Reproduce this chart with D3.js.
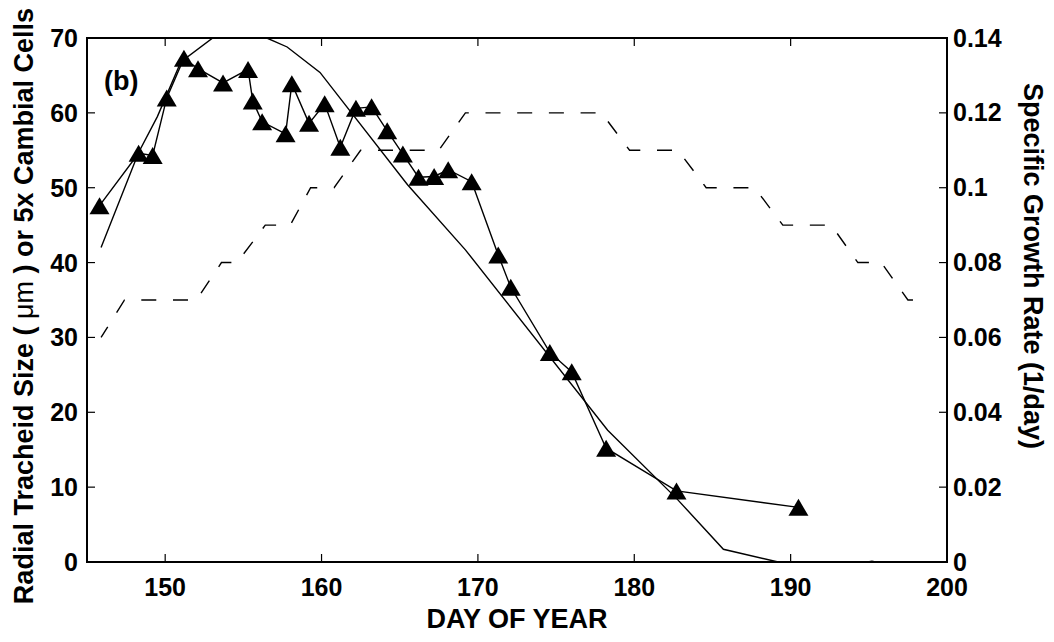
<!DOCTYPE html>
<html>
<head>
<meta charset="utf-8">
<title>Tracheid size and growth rate</title>
<script src="https://d3js.org/d3.v7.min.js"></script>
<style>
    html, body {
        margin: 0;
        padding: 0;
        background: #FFF;
    }
    svg {
        display: block;
        font-family: "Liberation Sans", Arial, Helvetica, sans-serif;
        font-weight: bold;
    }
    .tick-label {
        font-size: 25px;
    }
    .axis-label {
        font-size: 27px;
    }
</style>
</head>
<body>
<svg id="chart" width="1054" height="642"></svg>
<script>
    // observed tracheid sizes (triangles)
    const obsDays = [145.8, 148.3, 149.2, 150.1, 151.2, 152.1, 153.7, 155.3, 155.6, 156.2,
        157.7, 158.1, 159.2, 160.2, 161.2, 162.2, 163.2, 164.2, 165.2, 166.2,
        167.2, 168.1, 169.6, 171.3, 172.1, 174.6, 176.0, 178.2, 182.7, 190.5];
    const obsSize = [47.6, 54.6, 54.3, 62.0, 67.3, 65.9, 64.0, 65.8, 61.6, 58.8,
        57.2, 63.9, 58.6, 61.2, 55.4, 60.6, 60.8, 57.6, 54.5, 51.4,
        51.5, 52.4, 50.8, 41.0, 36.7, 28.0, 25.4, 15.2, 9.5, 7.3];

    // model curve (thin solid line)
    const modelDays = [145.9, 148.3, 149.5, 151.0, 153.1, 154.8, 156.5, 157.8, 159.9,
        165.5, 169.2, 178.3, 182.7, 185.7, 189.2, 192.0, 195.2, 198.0];
    const modelSize = [42.0, 54.7, 59.5, 66.8, 70.1, 71.5, 70.0, 68.8, 65.4,
        50.4, 41.7, 17.6, 8.5, 1.7, 0.0, -1.0, 0.1, -1.0];

    // specific growth rate (dashed line, right axis)
    const rateDays = [145.9, 147.4, 152.0, 153.6, 154.6, 156.4, 158.0, 159.3, 160.8,
        162.5, 167.5, 169.2, 177.9, 179.7, 182.8, 184.6, 187.7, 189.5, 192.6,
        194.3, 195.8, 197.5, 198.2];
    const rateValues = [0.06, 0.07, 0.07, 0.08, 0.08, 0.09, 0.09, 0.10, 0.10,
        0.11, 0.11, 0.12, 0.12, 0.11, 0.11, 0.10, 0.10, 0.09, 0.09,
        0.08, 0.08, 0.07, 0.07];

    const xTicks = [150, 160, 170, 180, 190, 200];
    const leftTicks = [0, 10, 20, 30, 40, 50, 60, 70];
    const rightTicks = [0, 0.02, 0.04, 0.06, 0.08, 0.1, 0.12, 0.14];

    const plotLeft = 87, plotRight = 947, plotTop = 38, plotBottom = 562;
    const tickLen = 8;
    const dashOn = 15, dashOff = 16.7;

    const svg = d3.select('#chart');
    const x = d3.scaleLinear().domain([145, 200]).range([plotLeft, plotRight]);
    const yL = d3.scaleLinear().domain([0, 70]).range([plotBottom, plotTop]);
    const yR = d3.scaleLinear().domain([0, 0.14]).range([plotBottom, plotTop]);

    svg.append('defs').append('clipPath')
        .attr('id', 'plot-clip')
        .append('rect')
        .attr('x', plotLeft)
        .attr('y', plotTop)
        .attr('width', plotRight - plotLeft)
        .attr('height', plotBottom - plotTop);

    const plot = svg.append('g').attr('clip-path', 'url(#plot-clip)');

    // dashed growth rate; phase chosen so a dash starts near day 170.8 on the 0.12 plateau
    const ratePts = rateDays.map((d, i) => [x(d), yR(rateValues[i])]);
    let lenToAnchor = 0;
    const anchorX = x(170.8);
    for (let i = 1; i < ratePts.length; i++) {
        const [x0, y0] = ratePts[i - 1], [x1, y1] = ratePts[i];
        if (x1 >= anchorX) {
            lenToAnchor += Math.hypot(anchorX - x0, (anchorX - x0) / (x1 - x0) * (y1 - y0));
            break;
        }
        lenToAnchor += Math.hypot(x1 - x0, y1 - y0);
    }
    const period = dashOn + dashOff;
    plot.append('path')
        .datum(ratePts)
        .attr('fill', 'none')
        .attr('stroke', '#000')
        .attr('stroke-width', 1.4)
        .attr('stroke-dasharray', `${dashOn},${dashOff}`)
        .attr('stroke-dashoffset', -((period - lenToAnchor % period) % period))
        .attr('d', d3.line());

    // model line
    plot.append('path')
        .datum(modelDays.map((d, i) => [d, modelSize[i]]))
        .attr('fill', 'none')
        .attr('stroke', '#000')
        .attr('stroke-width', 1.4)
        .attr('d', d3.line().x(d => x(d[0])).y(d => yL(d[1])));

    // observed line + triangles
    const obs = obsDays.map((d, i) => [d, obsSize[i]]);
    plot.append('path')
        .datum(obs)
        .attr('fill', 'none')
        .attr('stroke', '#000')
        .attr('stroke-width', 1.4)
        .attr('d', d3.line().x(d => x(d[0])).y(d => yL(d[1])));

    const tw = 20, th = 17;
    plot.selectAll('path.tri')
        .data(obs)
        .join('path')
        .attr('class', 'tri')
        .attr('fill', '#000')
        .attr('transform', d => `translate(${x(d[0])},${yL(d[1])})`)
        .attr('d', `M0,${-th / 2}L${tw / 2},${th / 2}L${-tw / 2},${th / 2}Z`);

    // axes box
    svg.append('rect')
        .attr('x', plotLeft)
        .attr('y', plotTop)
        .attr('width', plotRight - plotLeft)
        .attr('height', plotBottom - plotTop)
        .attr('fill', 'none')
        .attr('stroke', '#000')
        .attr('stroke-width', 2);

    const ticks = svg.append('g').attr('stroke', '#000').attr('stroke-width', 1.2);
    xTicks.forEach(t => {
        ticks.append('line').attr('x1', x(t)).attr('x2', x(t)).attr('y1', plotBottom).attr('y2', plotBottom - tickLen);
        ticks.append('line').attr('x1', x(t)).attr('x2', x(t)).attr('y1', plotTop).attr('y2', plotTop + tickLen);
    });
    leftTicks.forEach(t => {
        ticks.append('line').attr('x1', plotLeft).attr('x2', plotLeft + tickLen).attr('y1', yL(t)).attr('y2', yL(t));
    });
    rightTicks.forEach(t => {
        ticks.append('line').attr('x1', plotRight).attr('x2', plotRight - tickLen).attr('y1', yR(t)).attr('y2', yR(t));
    });

    svg.append('g').selectAll('text')
        .data(xTicks)
        .join('text')
        .attr('class', 'tick-label')
        .attr('x', d => x(d))
        .attr('y', plotBottom + 34)
        .attr('text-anchor', 'middle')
        .text(d => d);

    svg.append('g').selectAll('text')
        .data(leftTicks)
        .join('text')
        .attr('class', 'tick-label')
        .attr('x', plotLeft - 9)
        .attr('y', d => yL(d))
        .attr('dy', '0.36em')
        .attr('text-anchor', 'end')
        .text(d => d);

    svg.append('g').selectAll('text')
        .data(rightTicks)
        .join('text')
        .attr('class', 'tick-label')
        .attr('x', plotRight + 6)
        .attr('y', d => yR(d))
        .attr('dy', '0.34em')
        .attr('text-anchor', 'start')
        .text(d => String(+d.toFixed(2)));

    svg.append('text')
        .attr('class', 'axis-label')
        .attr('x', (plotLeft + plotRight) / 2)
        .attr('y', 628)
        .attr('text-anchor', 'middle')
        .text('DAY OF YEAR');

    const yl = svg.append('text')
        .attr('class', 'axis-label')
        .attr('text-anchor', 'middle')
        .attr('transform', 'translate(33,306) rotate(-90)');
    yl.append('tspan').text('Radial Tracheid Size (');
    yl.append('tspan').attr('font-weight', 'normal').text(' μm');
    yl.append('tspan').text(' ) or 5x Cambial Cells');

    svg.append('text')
        .attr('class', 'axis-label')
        .attr('text-anchor', 'middle')
        .attr('transform', 'translate(1024,266) rotate(90)')
        .text('Specific Growth Rate (1/day)');

    svg.append('text')
        .attr('class', 'axis-label')
        .attr('x', 104)
        .attr('y', 90)
        .text('(b)');
</script>
</body>
</html>
